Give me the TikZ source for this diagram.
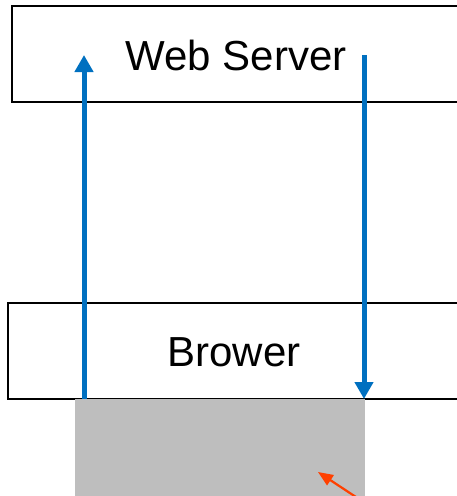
\documentclass[tikz,border=0pt]{standalone}
\usepackage{fontspec}
\setmainfont{Liberation Sans}
\usetikzlibrary{arrows.meta}
\definecolor{arrowblue}{RGB}{0,112,192}
\definecolor{fillgray}{RGB}{190,190,190}
\definecolor{redorange}{RGB}{255,64,0}
\begin{document}
\begin{tikzpicture}[x=1pt,y=-1pt,
  box/.style={rectangle, inner sep=0pt},
  boxline/.style={draw=black, line width=1.8pt},
  label text/.style={inner sep=0pt, font=\fontsize{42}{48}\selectfont},
  bluearrow/.style={draw=arrowblue, line width=5pt, -{Triangle[width=18pt,length=17pt]}},
  redarrow/.style={draw=redorange, line width=2.2pt, -{Triangle[width=12pt,length=15pt]}}]
\useasboundingbox (0,0) rectangle (457,496);
\node[box, minimum width=448pt, minimum height=96pt, anchor=west] (ws) at (12,54) {};
\draw[boxline] (ws.north east) -- (ws.north west) -- (ws.south west) -- (ws.south east);
\node[label text] (wst) at (236,55) {Web Server};
\node[box, minimum width=452pt, minimum height=96pt, anchor=west] (br) at (8,351) {};
\draw[boxline] (br.north east) -- (br.north west) -- (br.south west) -- (br.south east);
\node[label text] (brt) at (234,352) {Brower};
\node[fill=fillgray, inner sep=0pt, minimum width=290pt, minimum height=100pt, anchor=north west] (gr) at (75,399) {};
\coordinate (l1) at (84,399);
\coordinate (l2) at (84,55);
\coordinate (r1) at (364,55);
\coordinate (r2) at (364,399);
\coordinate (o1) at (362,501);
\coordinate (o2) at (318,472);
\draw[bluearrow] (l1) -- (l2);
\draw[bluearrow] (r1) -- (r2);
\draw[redarrow] (o1) -- (o2);
\end{tikzpicture}
\end{document}
